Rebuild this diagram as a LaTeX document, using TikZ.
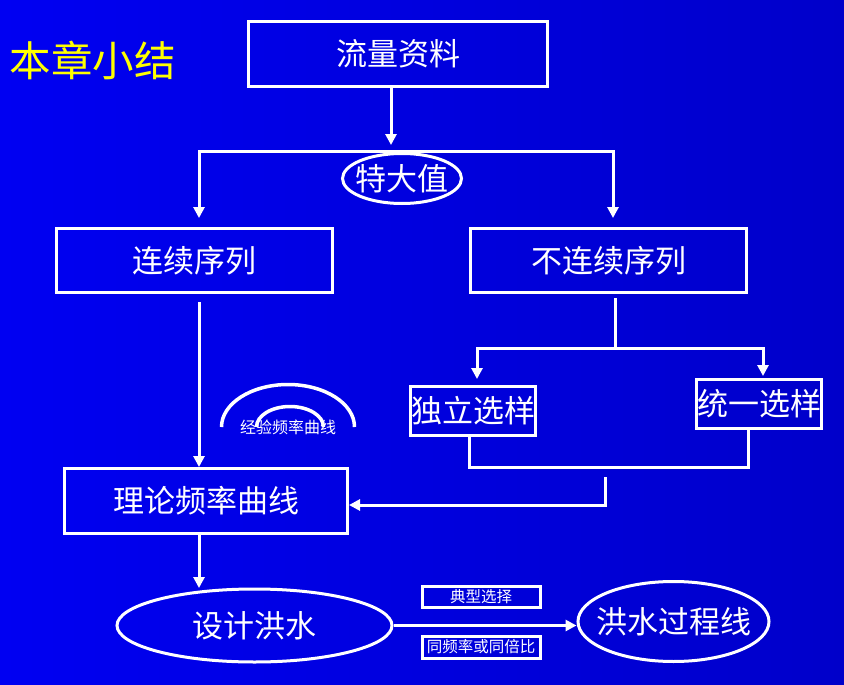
\documentclass[tikz,border=0pt]{standalone}
\usepackage{fontspec}
\newfontfamily\cjk{Noto Sans CJK SC}
\usetikzlibrary{arrows.meta,shapes.geometric}
\definecolor{bgLeft}{RGB}{0,0,242}
\definecolor{bgRight}{RGB}{0,0,202}
\definecolor{myYellow}{RGB}{255,255,0}

\begin{document}
\begin{tikzpicture}[x=1pt,y=-1pt,
  box/.style={draw=white,line width=3pt,inner sep=0pt,text=white,font=\cjk\fontsize{31}{31}\selectfont},
  oval/.style={box,ellipse},
  tag/.style={box,font=\cjk\fontsize{15.5}{16}\selectfont},
  link/.style={draw=white,line width=3pt},
  arr/.style={link,-{Triangle[width=11pt,length=11pt]}}]
  \fill[left color=bgLeft,right color=bgRight] (0,0) rectangle (844,685);
  \node[text=myYellow,font=\cjk\fontsize{41.5}{42}\selectfont,anchor=west] (title) at (6,60) {本章小结};
  \node[box,minimum width=299pt,minimum height=65pt] (flow) at (398,54) {流量资料};
  \node[oval,minimum width=119pt,minimum height=50pt] (peak) at (402,178.5) {\makebox[0pt]{特大值}};
  \node[box,minimum width=276pt,minimum height=64pt] (cont) at (194.5,260.5) {连续序列};
  \node[box,minimum width=276pt,minimum height=64pt] (noncont) at (608.5,260.5) {不连续序列};
  \node[box,minimum width=125pt,minimum height=49pt] (indep) at (473,411) {独立选样};
  \node[box,minimum width=125pt,minimum height=49pt] (unif) at (759,404) {统一选样};
  \node[box,minimum width=283pt,minimum height=65pt] (theory) at (206,501) {理论频率曲线};
  \node[oval,minimum width=275pt,minimum height=73pt] (design) at (254.5,625.5) {设计洪水};
  \node[oval,minimum width=191pt,minimum height=80pt] (hydro) at (673.5,621.5) {\makebox[0pt]{洪水过程线}};
  \node[tag,minimum width=118pt,minimum height=21pt] (typical) at (481,596.5) {典型选择};
  \node[tag,minimum width=118pt,minimum height=22pt] (ratio) at (481,647) {同频率或同倍比};

  \draw[link,line width=3.5pt] (221.5,427) arc[start angle=180,end angle=360,x radius=66.5,y radius=42.5];
  \draw[link,line width=3.5pt] (256.5,427) arc[start angle=180,end angle=360,x radius=33.5,y radius=20.5];
  \node[text=white,font=\cjk\fontsize{16}{16}\selectfont] (empirical) at (288,427) {经验频率曲线};

  \coordinate (drop) at (391,145);
  \coordinate (bar) at (391,151);
  \coordinate (toCont) at (199,218);
  \coordinate (toNon) at (613,218);
  \draw[arr] (flow.south -| drop) -- (drop);
  \draw[arr] (bar) -| (toCont);
  \draw[arr] (bar) -| (toNon);

  \coordinate (contOut) at (199,302);
  \draw[arr] (contOut) -- (contOut |- theory.north);

  \coordinate (nonOut) at (615,298);
  \coordinate (fork) at (615,348);
  \coordinate (toIndep) at (477,379);
  \coordinate (toUnif) at (763,376);
  \draw[link] (nonOut) -- (fork);
  \draw[arr] (fork) -| (toIndep);
  \draw[arr] (fork) -| (toUnif);

  \coordinate (joinL) at (469,467);
  \coordinate (joinR) at (748,467);
  \draw[link] (indep.south -| joinL) -- (joinL) -- (joinR) -- (unif.south -| joinR);

  \coordinate (backTop) at (605,477);
  \coordinate (backTurn) at (605,505);
  \draw[arr] (backTop) -- (backTurn) -- (backTurn -| theory.east);

  \coordinate (toDesign) at (199,588);
  \draw[arr] (theory.south -| toDesign) -- (toDesign);
  \draw[arr] (design.east) -- (design.east -| hydro.west);
\end{tikzpicture}
\end{document}
